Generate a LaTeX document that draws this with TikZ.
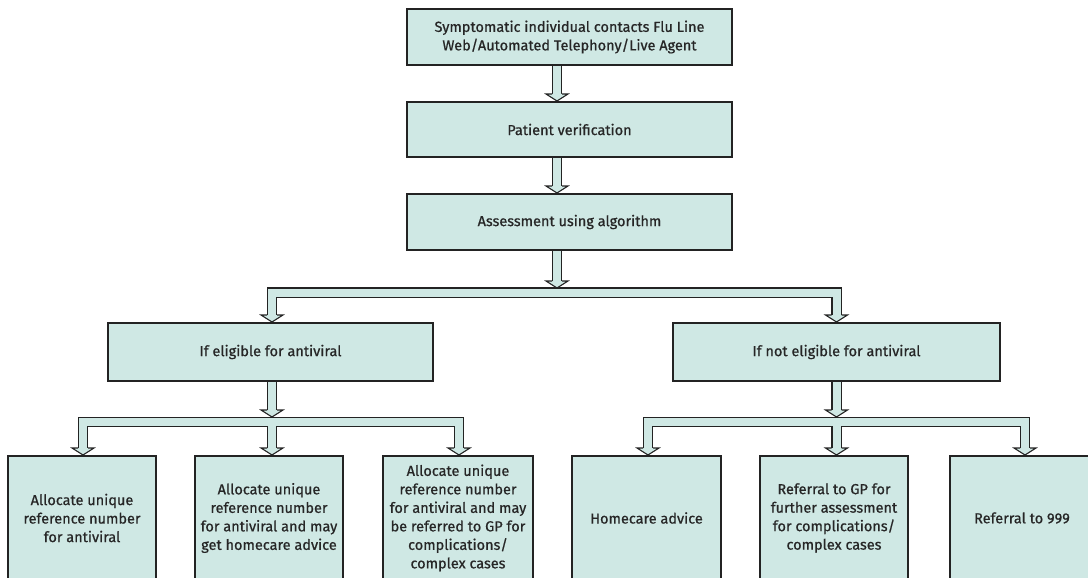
\documentclass[tikz,border=0pt]{standalone}
\usepackage{fontspec}
\setmainfont{Fira Sans}
\newfontfamily\boxfont{Fira Sans}[FakeBold=0.7]
\usetikzlibrary{calc}
\definecolor{boxfill}{RGB}{207,232,228}
\definecolor{edge}{RGB}{35,35,35}
\newcommand\pipes[1]{%
  \draw[edge,line width=10.5pt,line join=miter] #1;
  \draw[boxfill,line width=8pt,line join=miter] #1;}
\newcommand\ahead[1]{%
  \fill[boxfill] ($(#1)+(-11,-7)$) -- (#1) -- ($(#1)+(11,-7)$) -- cycle;
  \draw[edge,line width=1.1pt,line join=miter] ($(#1)+(-5,-7)$) -- ($(#1)+(-11,-7)$) -- (#1) -- ($(#1)+(11,-7)$) -- ($(#1)+(5,-7)$);}
\begin{document}
\begin{tikzpicture}[x=1pt,y=-1pt,
  box/.style={draw=edge, line width=2pt, fill=boxfill, align=center, inner sep=0pt,
    font=\boxfont\fontsize{14.5}{18.5}\selectfont, text=black!85},
]
\useasboundingbox (0,0) rectangle (1088,578);
\clip (0,0) rectangle (1088,578);

% boxes
\node[box, minimum width=325, minimum height=56] (top) at (569.5,37)
  {Symptomatic individual contacts Flu Line\\Web/Automated Telephony/Live Agent};
\node[box, minimum width=325, minimum height=55] (verify) at (569.5,129.5) {Patient verification};
\node[box, minimum width=325, minimum height=56] (assess) at (569.5,222) {Assessment using algorithm};
\node[box, minimum width=325, minimum height=58] (elig) at (270.5,352) {If eligible for antiviral};
\node[box, minimum width=327, minimum height=58] (nelig) at (836.5,352) {If not eligible for antiviral};
\node[box, minimum width=148, minimum height=124] (b1) at (82,518)
  {Allocate unique\\reference number\\for antiviral};
\node[box, minimum width=148, minimum height=124] (b2) at (269,518)
  {Allocate unique\\reference number\\for antiviral and may\\get homecare advice};
\node[box, minimum width=150, minimum height=124] (b3) at (458,518)
  {Allocate unique\\reference number\\for antiviral and may\\be referred to GP for\\complications/\\complex cases};
\node[box, minimum width=149, minimum height=124] (b4) at (646.5,518) {Homecare advice};
\node[box, minimum width=148, minimum height=124] (b5) at (834,518)
  {Referral to GP for\\further assessment\\for complications/\\complex cases};
\node[box, minimum width=144, minimum height=124] (b6) at (1022,518) {Referral to 999};

% x positions of the arrows
\coordinate (ax) at (557,0);
\coordinate (el) at (272,0);
\coordinate (nl) at (836.5,0);
\coordinate (l1) at (83,0);
\coordinate (l3) at (459,0);
\coordinate (r1) at (648,0);
\coordinate (r3) at (1025,0);
% bar levels
\coordinate (bar1) at (0,292.5);
\coordinate (bar2) at (0,422);
\coordinate (bar1top) at (0,288);
\coordinate (bar2top) at (0,417);

% top -> verify
\coordinate (t1) at (verify.north -| ax);
\pipes{(top.south -| ax) -- ($(t1)+(0,-7)$)}
\ahead{t1}
% verify -> assess
\coordinate (t2) at (assess.north -| ax);
\pipes{(verify.south -| ax) -- ($(t2)+(0,-7)$)}
\ahead{t2}
% assess -> branch
\coordinate (t3) at (bar1top -| ax);
\coordinate (te) at (elig.north -| el);
\coordinate (tn) at (nelig.north -| nl);
\pipes{($(te)+(0,-7)$) -- (bar1 -| el) -- (bar1 -| nl) -- ($(tn)+(0,-7)$)}
\pipes{(assess.south -| ax) -- ($(t3)+(0,-7)$)}
\ahead{t3}
\ahead{te}
\ahead{tn}

% eligible branch
\coordinate (t4) at (bar2top -| el);
\coordinate (tb1) at (b1.north -| l1);
\coordinate (tb2) at (b2.north -| el);
\coordinate (tb3) at (b3.north -| l3);
\pipes{($(tb1)+(0,-7)$) -- (bar2 -| l1) -- (bar2 -| l3) -- ($(tb3)+(0,-7)$)
  (bar2 -| el) -- ($(tb2)+(0,-7)$)}
\pipes{(elig.south -| el) -- ($(t4)+(0,-7)$)}
\ahead{t4}
\ahead{tb1}
\ahead{tb2}
\ahead{tb3}

% not eligible branch
\coordinate (t5) at (bar2top -| nl);
\coordinate (tb4) at (b4.north -| r1);
\coordinate (tb5) at (b5.north -| nl);
\coordinate (tb6) at (b6.north -| r3);
\pipes{($(tb4)+(0,-7)$) -- (bar2 -| r1) -- (bar2 -| r3) -- ($(tb6)+(0,-7)$)
  (bar2 -| nl) -- ($(tb5)+(0,-7)$)}
\pipes{(nelig.south -| nl) -- ($(t5)+(0,-7)$)}
\ahead{t5}
\ahead{tb4}
\ahead{tb5}
\ahead{tb6}
\end{tikzpicture}
\end{document}
